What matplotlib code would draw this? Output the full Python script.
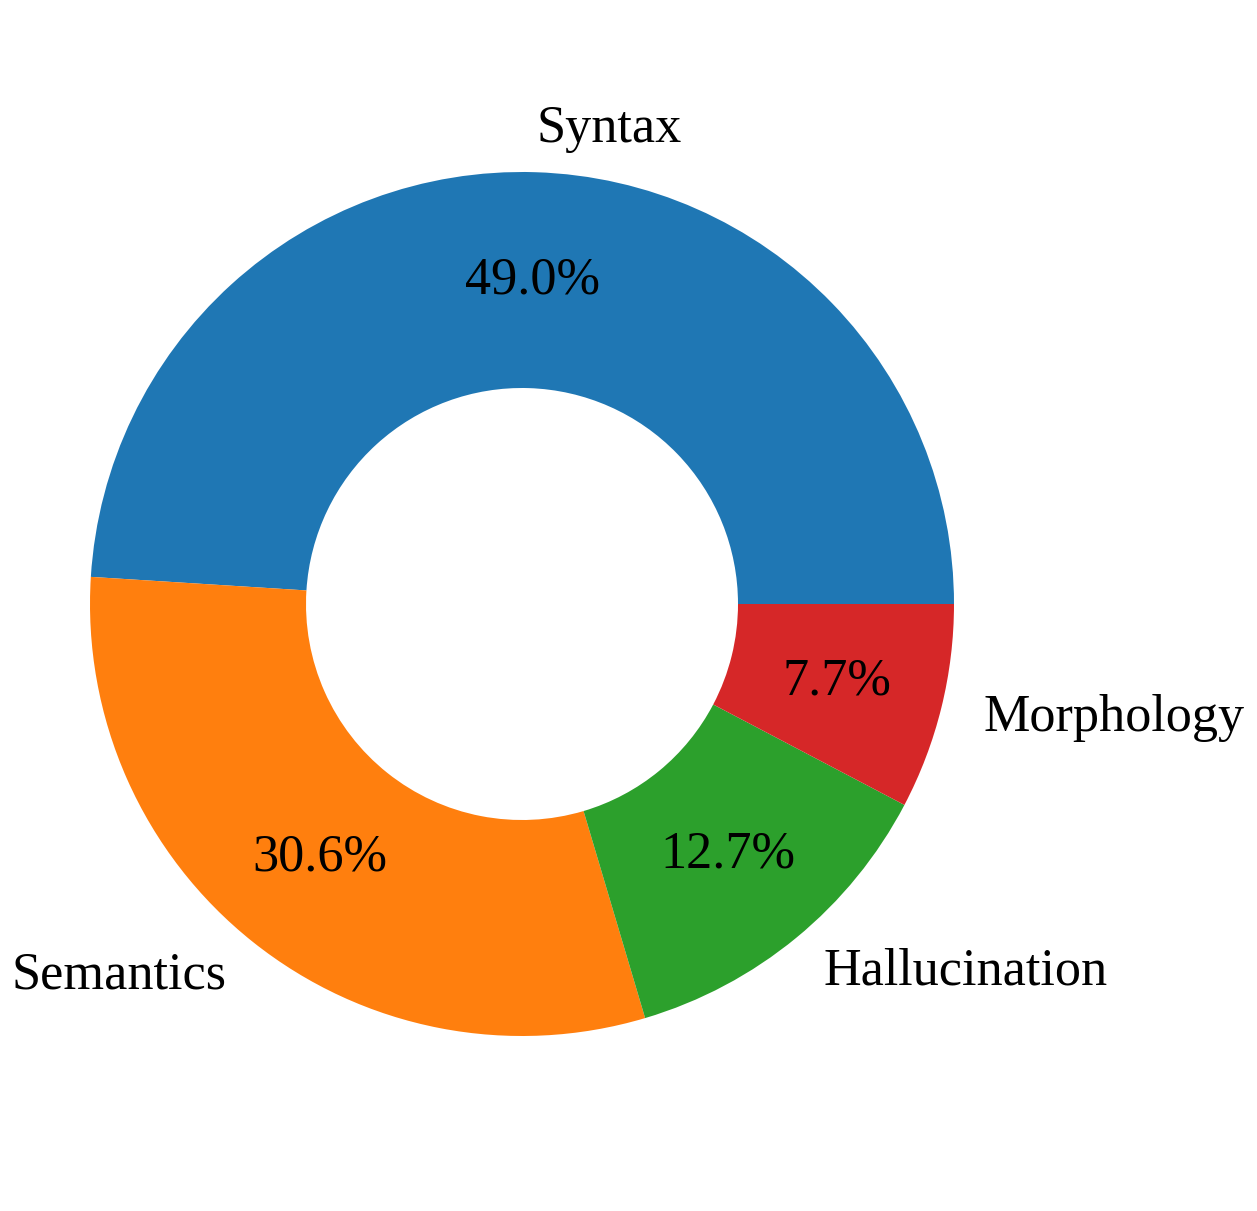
import matplotlib
matplotlib.use('Agg')
import matplotlib.pyplot as plt

# error categories and their shares (%)
labels = ['Syntax', 'Semantics', 'Hallucination', 'Morphology']
shares = [49.0, 30.6, 12.7, 7.7]
colors = ['#1f77b4', '#ff7f0e', '#2ca02c', '#d62728']

plt.rcParams['font.family'] = ['Liberation Serif', 'DejaVu Serif']

fig = plt.figure(figsize=(12.57, 12.11), dpi=100)
ax = fig.add_axes([0, 0, 1, 1])
wedges, texts, autotexts = ax.pie(shares, labels=labels, colors=colors,
                                  autopct='%1.1f%%', pctdistance=0.75,
                                  labeldistance=1.1, startangle=0,
                                  wedgeprops=dict(width=0.5),
                                  textprops=dict(fontsize=37.6))
# place pie: center at (522, 604) px, radius 432 px
r = 432.0
ax.set_aspect('auto')
ax.set_xlim(-522 / r, (1257 - 522) / r)
ax.set_ylim(-(1211 - 604) / r, 604 / r)
ax.axis('off')

fig.savefig('out.png', dpi=100)
